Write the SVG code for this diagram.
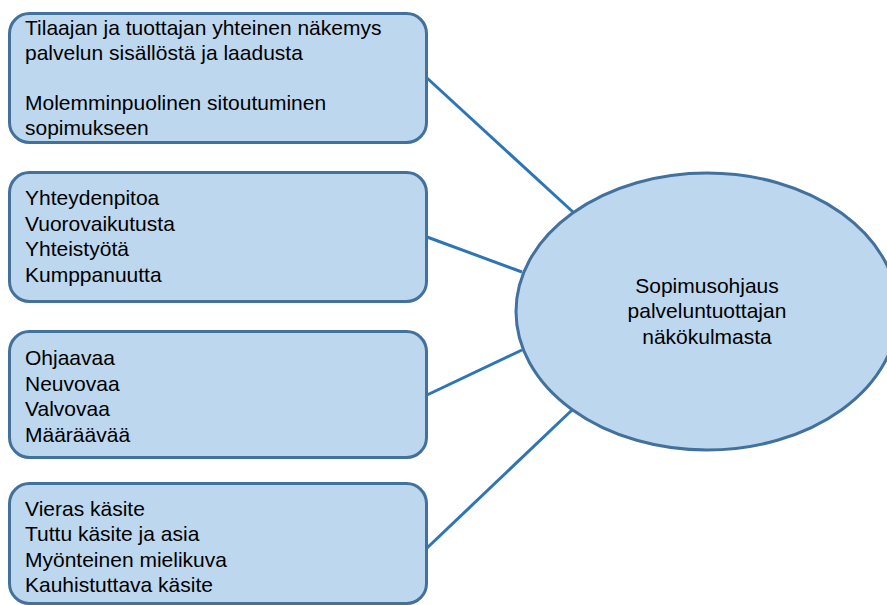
<svg xmlns="http://www.w3.org/2000/svg" width="887" height="605" viewBox="0 0 887 605">
<style>
.box{fill:#BDD7EE;stroke:#41719C;stroke-width:3}
.t{font-family:"Liberation Sans",Arial,sans-serif;font-size:21px;fill:#000}
.c{text-anchor:middle}
.ln{stroke:#2E75B6;stroke-width:3;fill:none}
</style>
<rect width="887" height="605" fill="#fff"/>
<g id="connectors">
<line class="ln" x1="427" y1="78" x2="573" y2="212"/>
<line class="ln" x1="427" y1="237" x2="522" y2="272"/>
<line class="ln" x1="427" y1="395" x2="522" y2="350"/>
<line class="ln" x1="427" y1="548" x2="572" y2="410"/>
</g>
<g id="box1">
<rect class="box" x="9.5" y="13.5" width="417" height="129" rx="20"/>
<text class="t" x="25" y="35">Tilaajan ja tuottajan yhteinen näkemys</text>
<text class="t" x="25" y="60">palvelun sisällöstä ja laadusta</text>
<text class="t" x="25" y="110">Molemminpuolinen sitoutuminen</text>
<text class="t" x="25" y="135">sopimukseen</text>
</g>
<g id="box2">
<rect class="box" x="9.5" y="172.5" width="417" height="129" rx="20"/>
<text class="t" x="25" y="205">Yhteydenpitoa</text>
<text class="t" x="25" y="231">Vuorovaikutusta</text>
<text class="t" x="25" y="256">Yhteistyötä</text>
<text class="t" x="25" y="282">Kumppanuutta</text>
</g>
<g id="box3">
<rect class="box" x="9.5" y="331.5" width="417" height="126" rx="20"/>
<text class="t" x="25" y="365">Ohjaavaa</text>
<text class="t" x="25" y="391">Neuvovaa</text>
<text class="t" x="25" y="416">Valvovaa</text>
<text class="t" x="25" y="442">Määräävää</text>
</g>
<g id="box4">
<rect class="box" x="9.5" y="483.5" width="417" height="120" rx="20"/>
<text class="t" x="25" y="516">Vieras käsite</text>
<text class="t" x="25" y="541">Tuttu käsite ja asia</text>
<text class="t" x="25" y="567">Myönteinen mielikuva</text>
<text class="t" x="25" y="592">Kauhistuttava käsite</text>
</g>
<g id="center">
<ellipse class="box" cx="707" cy="311.5" rx="191" ry="138.5"/>
<text class="t c" x="707" y="293">Sopimusohjaus</text>
<text class="t c" x="707" y="318">palveluntuottajan</text>
<text class="t c" x="707" y="344">näkökulmasta</text>
</g>
</svg>
